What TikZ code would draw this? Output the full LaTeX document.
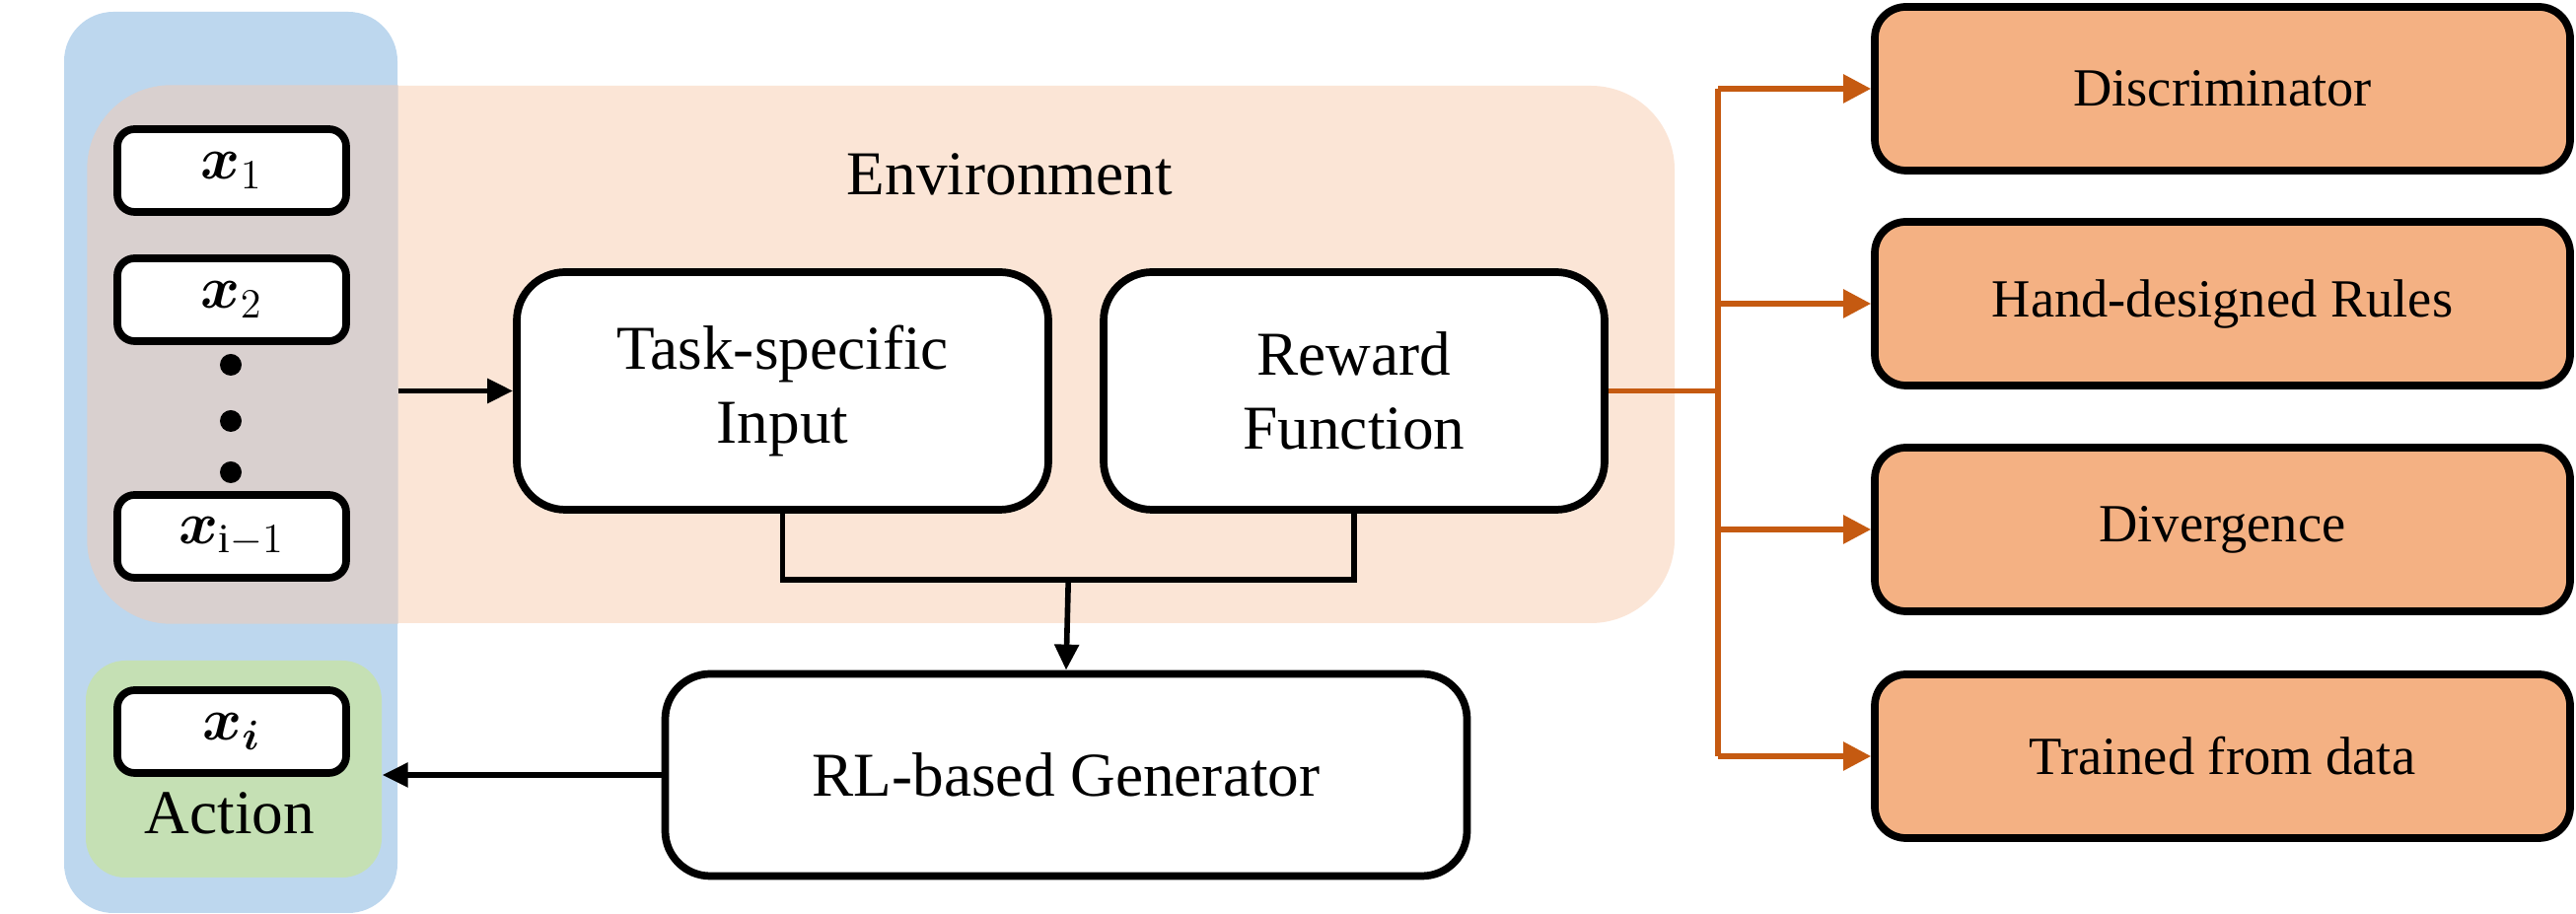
\documentclass[tikz,border=0pt]{standalone}
\usepackage{amsmath, amssymb}
\usepackage{fontspec}
\setmainfont{Liberation Serif}
\usetikzlibrary{arrows.meta, positioning, calc}
\definecolor{stateblue}{RGB}{189,215,238}
\definecolor{envpeach}{RGB}{251,229,214}
\definecolor{envmix}{RGB}{217,208,207}
\definecolor{actgreen}{RGB}{197,224,180}
\definecolor{critorange}{RGB}{244,177,131}
\definecolor{linkorange}{RGB}{197,90,17}

\begin{document}
\begin{tikzpicture}[
  tokbox/.style={draw, line width=2.2pt, rounded corners=5pt, fill=white, minimum width=2.32cm, minimum height=0.84cm, inner sep=0pt, font=\fontsize{17}{19}\selectfont},
  mainbox/.style={draw, line width=2.2pt, rounded corners=14pt, fill=white, align=center, inner sep=0pt, font=\fontsize{18}{21.5}\selectfont},
  critbox/.style={draw, line width=2.2pt, rounded corners=9pt, fill=critorange, minimum width=7.05cm, minimum height=1.66cm, inner sep=0pt, font=\fontsize{15.5}{18}\selectfont},
  area/.style={inner sep=0pt},
  link/.style={line width=1.6pt},
  arr/.style={link, -{Triangle[length=0.26cm, width=0.24cm]}},
  olink/.style={draw=linkorange, line width=1.6pt},
  oarr/.style={olink, -{Triangle[length=0.28cm, width=0.28cm]}}
]
  \useasboundingbox (0,0) rectangle (26.12,9.27);

  % state and environment areas
  \node[area, fill=stateblue, rounded corners=0.5cm, minimum width=3.38cm, minimum height=9.14cm] (state) at (2.34, 4.58) {};
  \node[area, fill=envpeach, rounded corners=0.85cm, minimum width=16.09cm, minimum height=5.45cm] (env) at (8.935, 5.675) {};
  \begin{scope}
    \clip (state.south west) rectangle (state.north east);
    \fill[envmix, rounded corners=0.85cm] (env.south west) rectangle (env.north east);
  \end{scope}
  \node[area, fill=actgreen, rounded corners=0.4cm, minimum width=3.0cm, minimum height=2.2cm] (act) at (2.37, 1.47) {};
  \node[font=\fontsize{18}{21.5}\selectfont] (envlabel) at (10.24, 7.50) {Environment};
  \node[font=\fontsize{18}{21.5}\selectfont] (actlabel) at (2.33, 1.02) {Action};

  % generated tokens
  \node[tokbox] (x1) at (2.35, 7.54) {$\boldsymbol{x}_1$};
  \node[tokbox] (x2) at (2.35, 6.23) {$\boldsymbol{x}_2$};
  \node[tokbox] (xim1) at (2.35, 3.83) {$\boldsymbol{x}_{\mathrm{i}-1}$};
  \node[tokbox] (xi) at (2.35, 1.85) {$\boldsymbol{x}_{\boldsymbol{i}}$};
  \foreach \y in {5.57, 5.00, 4.48}
    \fill (2.34, \y) circle (0.11);

  % environment and generator
  \node[mainbox, minimum width=5.39cm, minimum height=2.41cm] (task) at (7.935, 5.305) {Task-specific\\Input};
  \node[mainbox, minimum width=5.08cm, minimum height=2.41cm] (reward) at (13.73, 5.305) {Reward\\Function};
  \node[mainbox, rounded corners=13pt, minimum width=8.13cm, minimum height=2.05cm] (gen) at (10.81, 1.41) {RL-based Generator};

  % reward choices
  \node[critbox] (disc) at (22.535, 8.37) {Discriminator};
  \node[critbox] (hand) at (22.535, 6.19) {Hand-designed Rules};
  \node[critbox] (div) at (22.535, 3.90) {Divergence};
  \node[critbox] (trained) at (22.535, 1.60) {Trained from data};

  % connectors
  \draw[arr] (task.west -| state.east) -- (task.west);
  \coordinate (join) at ($(task.south)!0.5!(reward.south) + (0,-0.67)$);
  \draw[link] (task.south) |- (join) -| (reward.south);
  \draw[arr] (join) -- (gen.north);
  \draw[arr] (gen.west) -- (gen.west -| act.east);

  \coordinate (split) at (17.42, 0 |- reward.east);
  \draw[olink] (reward.east) -- (split);
  \draw[olink] (split |- disc.west) -- (split |- trained.west);
  \foreach \n in {disc, hand, div, trained}
    \draw[oarr] (split |- \n.west) -- (\n.west);
\end{tikzpicture}
\end{document}
